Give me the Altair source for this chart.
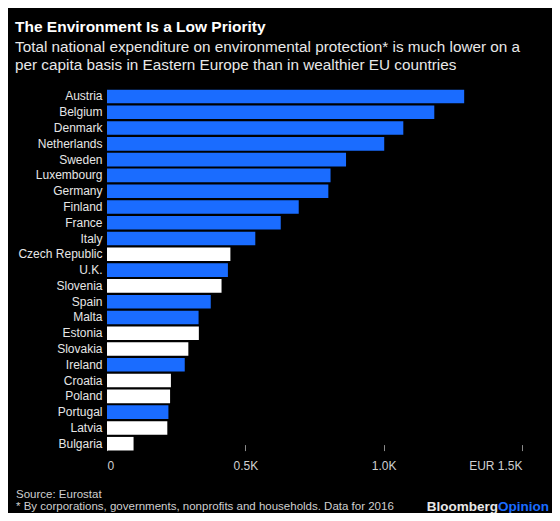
import altair as alt
import pandas as pd

FONT = "Liberation Sans"

countries = ["Austria", "Belgium", "Denmark", "Netherlands", "Sweden", "Luxembourg",
             "Germany", "Finland", "France", "Italy", "Czech Republic", "U.K.",
             "Slovenia", "Spain", "Malta", "Estonia", "Slovakia", "Ireland",
             "Croatia", "Poland", "Portugal", "Latvia", "Bulgaria"]
values = [1291, 1183, 1071, 1002, 864, 808, 800, 693, 628, 536, 446, 437,
          414, 375, 331, 332, 294, 281, 231, 228, 222, 218, 96]
eastern = ["Czech Republic", "Slovenia", "Estonia", "Slovakia", "Croatia",
           "Poland", "Latvia", "Bulgaria"]
x_ticks = [0, 500, 1000, 1500]

title = "The Environment Is a Low Priority"
subtitle = ["Total national expenditure on environmental protection* is much lower on a",
            "per capita basis in Eastern Europe than in wealthier EU countries"]
source = "Source: Eurostat"
footnote = "* By corporations, governments, nonprofits and households. Data for 2016"
logo_a = "Bloomberg"
logo_b = "Opinion"

BLUE = "#1a6cff"

df = pd.DataFrame({
    "country": countries,
    "value": values,
    "group": ["Eastern Europe" if c in eastern else "Other" for c in countries],
})

W, H = 415, 363

bars = alt.Chart(df).mark_bar().encode(
    y=alt.Y("country:N", sort=countries,
            scale=alt.Scale(paddingInner=0.14, paddingOuter=0.07),
            axis=alt.Axis(title=None, domain=False, ticks=False, labelPadding=5,
                          labelFontSize=12, labelColor="#e6e6e6", labelFont=FONT)),
    x=alt.X("value:Q", scale=alt.Scale(domain=[0, 1500], nice=False),
            axis=alt.Axis(values=x_ticks, title=None, domain=False, grid=False,
                          tickSize=6, tickColor="#8a8a8a", offset=-7,
                          labelExpr="datum.value == 0 ? '0' : (datum.value == 1500 ? 'EUR 1.5K' : format(datum.value / 1000, '.1f') + 'K')",
                          labelPadding=10, labelFontSize=12, labelColor="#d0d0d0",
                          labelFont=FONT)),
    color=alt.Color("group:N",
                    scale=alt.Scale(domain=["Other", "Eastern Europe"], range=[BLUE, "#ffffff"]),
                    legend=None),
)


def txt(s, x, y, size, weight="normal", color="#ffffff", align="left"):
    return alt.Chart(pd.DataFrame({"t": [s]})).mark_text(
        align=align, baseline="alphabetic", fontSize=size, fontWeight=weight,
        color=color, font=FONT
    ).encode(x=alt.value(x), y=alt.value(y), text="t:N")


texts = [
    txt(title, -92, -56.6, 15.5, "bold"),
    txt(subtitle[0], -92, -36.6, 15.3, color="#e8e8e8"),
    txt(subtitle[1], -92, -18.6, 15.3, color="#e8e8e8"),
    txt(source, -91, 409.4, 11.5, color="#cfcfcf"),
    txt(footnote, -91, 420.9, 11.5, color="#cfcfcf"),
    txt(logo_a, 391, 422.4, 13.5, "bold", "#e8e8e8", "right"),
    txt(logo_b, 391, 422.4, 13.5, "bold", BLUE, "left"),
]

chart = alt.layer(bars, *texts).properties(
    width=W, height=H,
    autosize=alt.AutoSizeParams(type="none"),
    padding={"left": 99, "top": 80.6, "right": 30, "bottom": 61.4},
    background="#000000",
).configure_view(stroke=None)

chart.save("out.html", embed_options={"renderer": "svg", "actions": False})
